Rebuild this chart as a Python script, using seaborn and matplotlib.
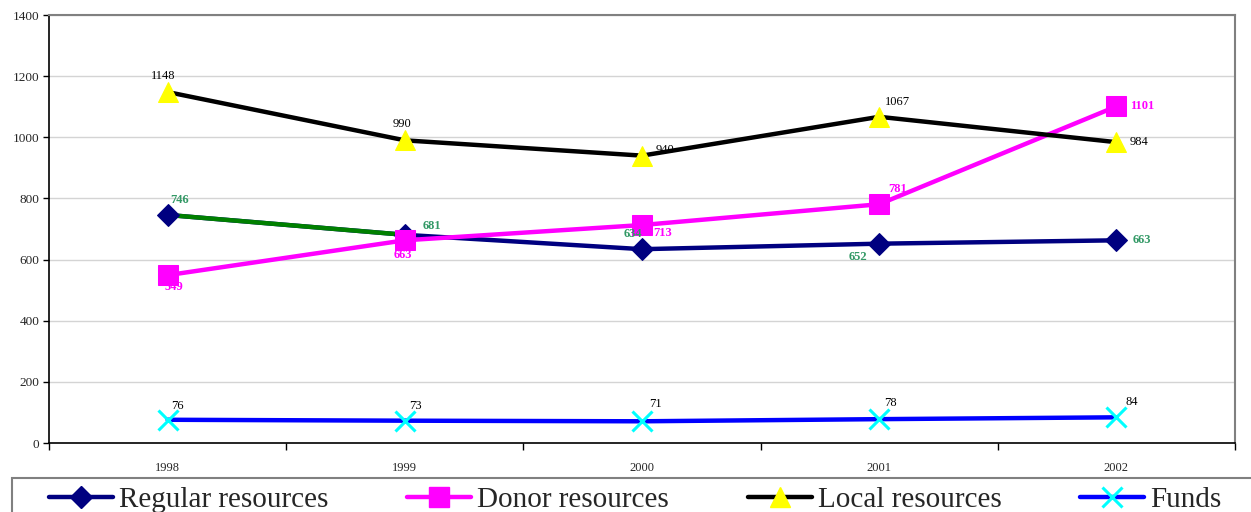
import matplotlib
matplotlib.use("Agg")
import matplotlib.pyplot as plt
import seaborn as sns
import pandas as pd
from matplotlib.patches import Rectangle
from matplotlib.lines import Line2D

years = ["1998", "1999", "2000", "2001", "2002"]
regular = [746, 681, 634, 652, 663]
donor = [549, 663, 713, 781, 1101]
local = [1148, 990, 940, 1067, 984]
funds = [76, 73, 71, 78, 84]

sns.set_style("white")
plt.rcParams["font.family"] = ["Liberation Serif", "DejaVu Serif"]

fig = plt.figure(figsize=(12.51, 5.12), dpi=100)
ax = fig.add_axes([49/1251, 69/512, (1235-49)/1251, (443-15)/512])

pos = list(range(len(years)))
df = pd.DataFrame({"pos": pos, "Regular": regular, "Donor": donor,
                   "Local": local, "Funds": funds})

LW = 3.2
# Regular resources
sns.lineplot(data=df, x="pos", y="Regular", ax=ax, color="#000080", lw=LW, zorder=3)
sns.lineplot(data=df.iloc[:2], x="pos", y="Regular", ax=ax, color="#008000", lw=LW, zorder=3)
sns.lineplot(data=df, x="pos", y="Regular", ax=ax, lw=0, marker="D", markersize=11,
             color="#000080", markeredgecolor="#000080", zorder=4)
# Donor resources
sns.lineplot(data=df, x="pos", y="Donor", ax=ax, color="#FF00FF", lw=LW, marker="s",
             markersize=14, markeredgecolor="#FF00FF", zorder=5)
# Local resources
sns.lineplot(data=df, x="pos", y="Local", ax=ax, color="black", lw=LW, zorder=5)
sns.lineplot(data=df, x="pos", y="Local", ax=ax, lw=0, marker="^", markersize=14,
             color="#FFFF00", markeredgecolor="#FFFF00", zorder=6)
# Funds
sns.lineplot(data=df, x="pos", y="Funds", ax=ax, color="#0000FF", lw=LW, zorder=5)
sns.lineplot(data=df, x="pos", y="Funds", ax=ax, lw=0, marker="x", markersize=14,
             markeredgewidth=2.2, color="#00FFFF", markeredgecolor="#00FFFF", zorder=6)

# Data labels
lab_fs = 9
local_off = [(-4, 16), (-3, 16), (23, 6), (18, 15), (23, 0)]
donor_off = [(6, -12), (-2, -15), (21, -8), (18, 15), (26, 0)]
reg_off = [(12, 15), (27, 9), (-9, 15), (-21, -13), (25, 0)]
fund_off = [(10, 14), (11, 15), (13, 17), (11, 16), (15, 15)]

def labels(vals, offs, color, weight):
    for p, v, o in zip(pos, vals, offs):
        ax.annotate(str(v), (p, v), xytext=o, textcoords="offset pixels",
                    ha="center", va="center", fontsize=lab_fs, color=color,
                    fontweight=weight, zorder=7)

labels(local, local_off, "black", "normal")
labels(donor, donor_off, "#FF00FF", "bold")
labels(regular, reg_off, "#339966", "bold")
labels(funds, fund_off, "black", "normal")

# Axes styling
ax.set_xlim(-0.5, len(years) - 0.5)
ax.set_ylim(0, 1400)
ax.set_yticks(range(0, 1401, 200))
ax.set_xticks(pos)
ax.set_xticklabels(years)
ax.set_xticks([p - 0.5 for p in pos] + [len(years) - 0.5], minor=True)
ax.tick_params(axis="x", which="major", length=0, pad=14, labelsize=9)
ax.tick_params(axis="x", which="minor", length=5, width=1, color="black", direction="out", bottom=True)
ax.tick_params(axis="y", which="major", length=4, width=1, color="black", direction="out",
               left=True, labelsize=9.5, pad=3)
ax.set_xlabel("")
ax.set_ylabel("")
ax.yaxis.grid(True, color="#d4d4d4", lw=1)
ax.xaxis.grid(False)
ax.set_axisbelow(True)
for s in ["left", "bottom"]:
    ax.spines[s].set_color("black")
    ax.spines[s].set_linewidth(1.2)
for s in ["top", "right"]:
    ax.spines[s].set_color("#808080")
    ax.spines[s].set_linewidth(1.5)

# Legend
fig.patches.append(Rectangle((12/1251, -0.02), 1.1, 34/512 + 0.02, transform=fig.transFigure,
                             fill=False, edgecolor="#808080", lw=1.5))
handles = [
    Line2D([], [], color="#000080", lw=LW, marker="D", markersize=11),
    Line2D([], [], color="#FF00FF", lw=LW, marker="s", markersize=14),
    Line2D([], [], color="black", lw=LW, marker="^", markersize=14,
           markerfacecolor="#FFFF00", markeredgecolor="#FFFF00"),
    Line2D([], [], color="#0000FF", lw=LW, marker="x", markersize=14,
           markeredgewidth=2.2, markeredgecolor="#00FFFF"),
]
names = ["Regular resources", "Donor resources", "Local resources", "Funds"]
fig.legend(handles, names, loc="center left", bbox_to_anchor=(49/1251, 12/512),
           ncol=4, frameon=False, fontsize=21, handlelength=2.2, handletextpad=0.2,
           columnspacing=2.7, borderpad=0, borderaxespad=0)

fig.savefig("out.png", dpi=100)
